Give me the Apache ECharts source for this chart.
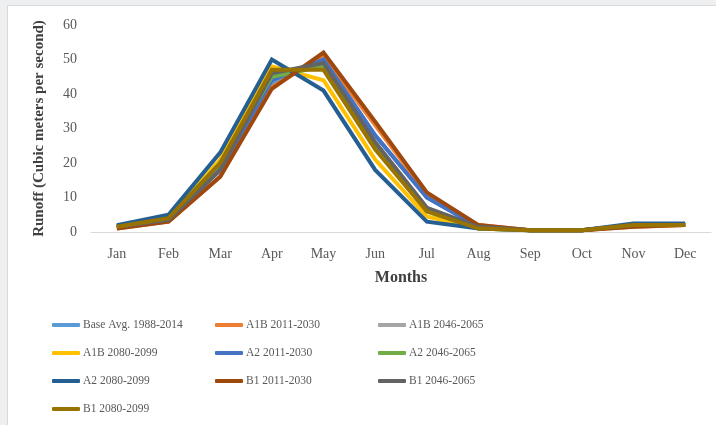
<!DOCTYPE html>
<html>
<head>
<meta charset="utf-8">
<script src="https://cdn.jsdelivr.net/npm/echarts@6/dist/echarts.min.js"></script>
<style>
  html, body { margin: 0; padding: 0; background: #eeeff0; }
  #chart { width: 716px; height: 425px; }
</style>
</head>
<body>
<div id="chart"></div>
<script>
var months = ["Jan", "Feb", "Mar", "Apr", "May", "Jun", "Jul", "Aug", "Sep", "Oct", "Nov", "Dec"];
var seriesNames = [
  "Base Avg. 1988-2014", "A1B 2011-2030", "A1B 2046-2065",
  "A1B 2080-2099", "A2 2011-2030", "A2 2046-2065",
  "A2 2080-2099", "B1 2011-2030", "B1 2046-2065",
  "B1 2080-2099"
];
var colors = ["#5b9bd5", "#ed7d31", "#a5a5a5", "#ffc000", "#4472c4", "#70ad47", "#255e91", "#9e480e", "#636363", "#997300"];

// runoff values
var baseAvg  = [1.5, 4, 19, 43, 50, 28, 10, 1.5, 0.5, 0.5, 2, 2];
var a1b2011  = [1, 3, 16, 42, 51, 31, 11, 2, 0.5, 0.5, 1.5, 2];
var a1b2046  = [1.5, 3.5, 18, 45, 49, 26, 7, 1.5, 0.5, 0.5, 2, 2];
var a1b2080  = [1.5, 4, 21, 48, 44, 21, 4.5, 1, 0.5, 0.5, 2, 2];
var a22011   = [1.5, 3.5, 18, 44, 50, 28, 10, 1.5, 0.5, 0.5, 2, 2];
var a22046   = [1.5, 4, 20, 45, 48, 25, 6, 1, 0.5, 0.5, 2, 2];
var a22080   = [2, 5, 23, 50, 41, 18, 3, 1, 0.5, 0.5, 2.5, 2.5];
var b12011   = [1, 3, 16, 41.5, 52, 32, 11.5, 2, 0.5, 0.5, 1.5, 2];
var b12046   = [1.5, 3.5, 18, 46, 49, 26, 7, 1.5, 0.5, 0.5, 2, 2];
var b12080   = [1.5, 4, 20, 47, 47, 24, 6, 1, 0.5, 0.5, 2, 2];
var allData = [baseAvg, a1b2011, a1b2046, a1b2080, a22011, a22046, a22080, b12011, b12046, b12080];

var font = "'Liberation Serif', 'Times New Roman', serif";

var chart = echarts.init(document.getElementById("chart"));

var series = seriesNames.map(function (name, i) {
  return {
    name: name,
    type: "line",
    data: allData[i],
    symbol: "none",
    lineStyle: { width: 4, color: colors[i], join: "miter" },
    itemStyle: { color: colors[i] }
  };
});

var option = {
  backgroundColor: "#eeeff0",
  animation: false,
  graphic: [{
    type: "rect",
    silent: true,
    z: -10,
    shape: { x: 7.5, y: 5.5, width: 720, height: 430 },
    style: { fill: "#ffffff", stroke: "#d9d9d9", lineWidth: 1 }
  }],
  grid: { left: 91, right: 5, top: 25, bottom: 193 },
  xAxis: {
    type: "category",
    data: months,
    name: "Months",
    nameLocation: "middle",
    nameGap: 38,
    nameTextStyle: { fontFamily: font, fontSize: 16, fontWeight: "bold", color: "#404040" },
    axisLine: { lineStyle: { color: "#d9d9d9", width: 1 } },
    axisTick: { show: false },
    axisLabel: { fontFamily: font, fontSize: 14, color: "#595959", margin: 15 }
  },
  yAxis: {
    type: "value",
    min: 0,
    max: 60,
    interval: 10,
    name: "Runoff (Cubic meters per second)",
    nameLocation: "middle",
    nameGap: 44,
    nameTextStyle: { fontFamily: font, fontSize: 15, fontWeight: "bold", color: "#404040" },
    axisLine: { show: false },
    axisTick: { show: false },
    splitLine: { show: false },
    axisLabel: { fontFamily: font, fontSize: 14, color: "#595959", margin: 14 }
  },
  legend: {
    data: seriesNames,
    left: 47,
    top: 306,
    width: 495,
    itemGap: 0,
    itemWidth: 28,
    itemHeight: 4,
    icon: "roundRect",
    textStyle: {
      fontFamily: font,
      fontSize: 11.5,
      color: "#595959",
      width: 132,
      height: 28,
      lineHeight: 28,
      padding: [0, 0, 0, -2]
    }
  },
  series: series
};

chart.setOption(option);
</script>
</body>
</html>
